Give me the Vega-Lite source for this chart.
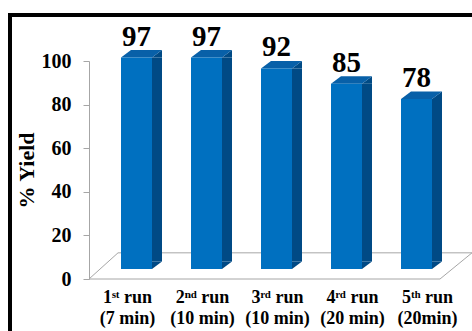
{
  "$schema": "https://vega.github.io/schema/vega-lite/v6.json",
  "autosize": "none",
  "padding": {"left": 10, "top": 15, "right": 0, "bottom": 0},
  "width": 466,
  "height": 322,
  "background": "white",
  "config": {
    "view": {"stroke": "black", "strokeWidth": 4, "fill": "white"},
    "font": "Liberation Serif",
    "axis": {"labelFont": "Liberation Serif", "titleFont": "Liberation Serif", "labelFontWeight": "bold", "titleFontWeight": "bold", "labelColor": "black", "titleColor": "black"}
  },
  "data": {"values": [
    {"run": "1ˢᵗ run (7 min)", "v": 97},
    {"run": "2ⁿᵈ run (10 min)", "v": 97},
    {"run": "3ʳᵈ run (10 min)", "v": 92},
    {"run": "4ʳᵈ run (20 min)", "v": 85},
    {"run": "5ᵗʰ run (20min)", "v": 78}
  ]},
  "layer": [
    {
      "data": {"values": [{}]},
      "layer": [
        {
          "mark": {"type": "rule", "color": "#A6A6A6", "strokeWidth": 1, "xOffset": -38.5, "x2Offset": 12.5},
          "encoding": {
            "x": {"datum": "1ˢᵗ run (7 min)", "type": "nominal",
              "scale": {"domain": ["1ˢᵗ run (7 min)", "2ⁿᵈ run (10 min)", "3ʳᵈ run (10 min)", "4ʳᵈ run (20 min)", "5ᵗʰ run (20min)"], "range": [80, 455], "paddingInner": 0, "paddingOuter": 0},
              "axis": {"orient": "bottom", "offset": -58, "title": null, "domain": false, "ticks": false, "labelPadding": 9, "labelAngle": 0, "labelFont": "Liberation Serif", "labelFontSize": 18, "labelFontWeight": "bold", "labelColor": "black", "labelLineHeight": 21, "labelOverlap": false, "labelBound": false,
                "labelExpr": "[slice(datum.value, 0, indexof(datum.value, ' (')), slice(datum.value, indexof(datum.value, ' (') + 1)]"}},
            "x2": {"datum": "5ᵗʰ run (20min)"},
            "y": {"datum": 0, "type": "quantitative",
              "scale": {"domain": [0, 100], "range": [264, 46]},
              "axis": {"title": "% Yield", "offset": -79, "values": [0, 20, 40, 60, 80, 100], "grid": false, "domainColor": "#A6A6A6", "tickColor": "#A6A6A6", "tickSize": 6, "labelPadding": 12, "labelFont": "Liberation Serif", "labelFontWeight": "bold", "labelFontSize": 20, "labelColor": "black", "titleFont": "Liberation Serif", "titleFontSize": 22, "titleFontWeight": "bold", "titleColor": "black", "titlePadding": 3}}
          }
        },
        {
          "mark": {"type": "rule", "color": "#A6A6A6", "strokeWidth": 1, "xOffset": -9.5, "x2Offset": 50},
          "encoding": {
            "x": {"datum": "1ˢᵗ run (7 min)", "type": "nominal"},
            "x2": {"datum": "5ᵗʰ run (20min)"},
            "y": {"datum": 12, "type": "quantitative"}
          }
        },
        {
          "mark": {"type": "rule", "color": "#A6A6A6", "strokeWidth": 1, "xOffset": -38.5, "x2Offset": -9.5},
          "encoding": {
            "x": {"datum": "1ˢᵗ run (7 min)", "type": "nominal"},
            "x2": {"datum": "1ˢᵗ run (7 min)"},
            "y": {"datum": 0, "type": "quantitative"},
            "y2": {"datum": 12}
          }
        },
        {
          "mark": {"type": "rule", "color": "#A6A6A6", "strokeWidth": 1, "xOffset": 12.5, "x2Offset": 44.5},
          "encoding": {
            "x": {"datum": "5ᵗʰ run (20min)", "type": "nominal"},
            "x2": {"datum": "5ᵗʰ run (20min)"},
            "y": {"datum": 0, "type": "quantitative"},
            "y2": {"datum": 12}
          }
        }
      ]
    },
    {
      "encoding": {
        "x": {"field": "run", "type": "nominal", "sort": null, "scale": {"range": [91.5, 441.5], "paddingInner": 0, "paddingOuter": 0}, "axis": null}
      },
      "layer": [
        {
          "mark": {"type": "bar", "color": "#004A85", "size": 10, "xOffset": 20.5, "yOffset": -10, "y2Offset": -17.5},
          "encoding": {"y": {"field": "v", "type": "quantitative"}, "y2": {"datum": 0}}
        },
        {
          "mark": {"type": "point", "filled": true, "opacity": 1, "size": 4, "strokeWidth": 0, "color": "#004A85", "shape": "M 15.5 -10 L 25.5 -17.5 L 25.5 -10 Z"},
          "encoding": {"y": {"field": "v", "type": "quantitative"}}
        },
        {
          "mark": {"type": "point", "filled": true, "opacity": 1, "size": 4, "strokeWidth": 0, "color": "#004A85", "shape": "M 15.5 -10 L 15.5 -17.5 L 25.5 -17.5 Z"},
          "encoding": {"y": {"datum": 0, "type": "quantitative"}}
        },
        {
          "mark": {"type": "point", "filled": true, "opacity": 1, "size": 4, "strokeWidth": 0, "color": "#0860A8", "shape": "M -15.5 -10 L 15.5 -10 L 25.5 -17.5 L -5.5 -17.5 Z"},
          "encoding": {"y": {"field": "v", "type": "quantitative"}}
        },
        {
          "mark": {"type": "bar", "color": "#0070C0", "size": 31, "yOffset": -10, "y2Offset": -10},
          "encoding": {"y": {"field": "v", "type": "quantitative"}, "y2": {"datum": 0}}
        },
        {
          "mark": {"type": "text", "font": "Liberation Serif", "fontWeight": "bold", "fontSize": 29, "dy": -22, "baseline": "alphabetic", "color": "black"},
          "encoding": {"y": {"field": "v", "type": "quantitative"}, "text": {"field": "v", "type": "quantitative"}}
        }
      ]
    }
  ],
  "resolve": {"scale": {"x": "independent"}}
}
